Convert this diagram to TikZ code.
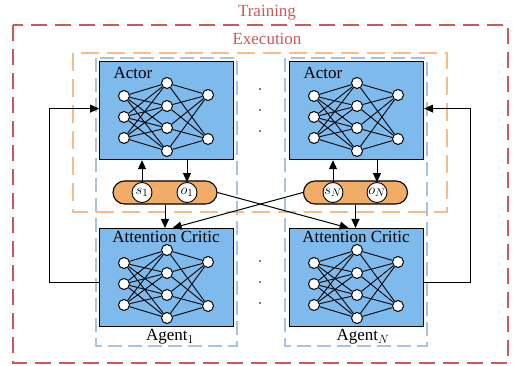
\documentclass[tikz,border=0pt]{standalone}
\usepackage{fontspec}
\setmainfont{Liberation Serif}
\usetikzlibrary{arrows.meta,positioning}

\definecolor{boxblue}{RGB}{126,186,236}
\definecolor{barorange}{RGB}{241,172,104}
\definecolor{trainred}{RGB}{205,88,90}
\definecolor{execorange}{RGB}{244,190,140}
\definecolor{agentblue}{RGB}{168,194,226}

% one small fully connected net: 3 inputs, 4 hidden, 2 outputs
\newcommand{\annet}[3]{%
  \begin{scope}[shift={(#2,#3)}]
    \foreach \j/\y in {1/35,2/56,3/77} \node[neuron] (#1i\j) at (25,\y) {};
    \foreach \j/\y in {1/22,2/45,3/67,4/90} \node[neuron] (#1h\j) at (68,\y) {};
    \foreach \j/\y in {1/34,2/78} \node[neuron] (#1o\j) at (109,\y) {};
    \foreach \a in {1,2,3} \foreach \b in {1,...,4} \draw[synapse] (#1i\a) -- (#1h\b);
    \foreach \b in {1,...,4} \foreach \c in {1,2} \draw[synapse] (#1h\b) -- (#1o\c);
  \end{scope}}

\begin{document}
\begin{tikzpicture}[
    x=1pt, y=-1pt,
    font=\fontsize{17}{20}\selectfont,
    netbox/.style={draw, line width=1.2pt, fill=boxblue, anchor=north west, inner sep=0pt,
                   minimum width=134pt, minimum height=98pt},
    neuron/.style={circle, draw, line width=1pt, fill=white, inner sep=0pt, minimum size=11pt},
    synapse/.style={line width=0.9pt},
    obsbar/.style={draw, line width=1.1pt, fill=barorange, rounded corners=11.5pt,
                   minimum width=104pt, minimum height=23pt},
    obs/.style={circle, draw, line width=0.9pt, fill=white, inner sep=0pt, minimum size=20pt,
                font=\fontsize{15}{17}\selectfont},
    flow/.style={line width=1pt, -{Triangle[length=9pt,width=8pt]}},
    loopline/.style={line width=1pt, -{Triangle[length=9pt,width=8pt]}},
    trainframe/.style={draw=trainred, line width=1.2pt, dash pattern=on 16pt off 8pt},
    execframe/.style={draw=execorange, line width=1.2pt, dash pattern=on 18pt off 8pt},
    agentframe/.style={draw=agentblue, line width=1.1pt, dash pattern=on 14pt off 6pt}
]
\useasboundingbox (0,0) rectangle (515,366);

% frames
\draw[trainframe] (13,25) rectangle (508,363);
\draw[execframe] (73,53) rectangle (447,212);
\draw[agentframe] (96,58) rectangle (237,346);
\draw[agentframe] (285,58) rectangle (427,346);
\node[text=trainred] (train) at (267,13) {Training};
\node[text=trainred] (exec) at (267,39) {Execution};

% actor and critic boxes
\node[netbox] (actorA) at (99,61) {};
\node[netbox] (actorN) at (289,61) {};
\node[netbox] (criticA) at (99,228) {};
\node[netbox] (criticN) at (289,228) {};
\node (actorAlbl) at (133,73) {Actor};
\node (actorNlbl) at (323,73) {Actor};
\node (criticAlbl) at (166,237) {Attention Critic};
\node (criticNlbl) at (356,237) {Attention Critic};

\annet{aa}{99}{61}
\annet{an}{289}{61}
\annet{ca}{99}{228}
\annet{cn}{289}{228}

% observation bars
\node[obsbar] (barA) at (165,192.5) {};
\node[obsbar] (barN) at (355.5,192.5) {};
\node[obs] (s1) at (142,192.5) {$s_1$};
\node[obs] (o1) at (187,192.5) {$o_1$};
\node[obs] (sN) at (333,192.5) {$s_N$};
\node[obs] (oN) at (377,192.5) {$o_N$};

\node (agentA) at (170,337) {Agent$_1$};
\node (agentN) at (363,337) {Agent$_N$};

% dots between the agents
\foreach \y in {89,110,131,261,282,303} \fill (260,\y) circle (0.8);

\draw[flow] (s1.north) -- (s1 |- actorA.south);
\draw[flow] (o1 |- actorA.south) -- (o1.north);
\draw[flow] (sN.north) -- (sN |- actorN.south);
\draw[flow] (oN |- actorN.south) -- (oN.north);
\draw[flow] (barA.south) -- (barA.south |- criticA.north);
\draw[flow] (barN.south) -- (barN.south |- criticN.north);
\draw[flow] (barA.east) -- ([xshift=-8pt]criticN.north);
\draw[flow] (barN.west) -- ([xshift=6pt]criticA.north);

\draw[loopline] ([yshift=-5pt]criticA.west) -- ++(-50,0) |- ([yshift=2pt]actorA.west);
\draw[loopline] ([yshift=-5pt]criticN.east) -- ++(46,0) |- ([yshift=2pt]actorN.east);
\end{tikzpicture}
\end{document}
